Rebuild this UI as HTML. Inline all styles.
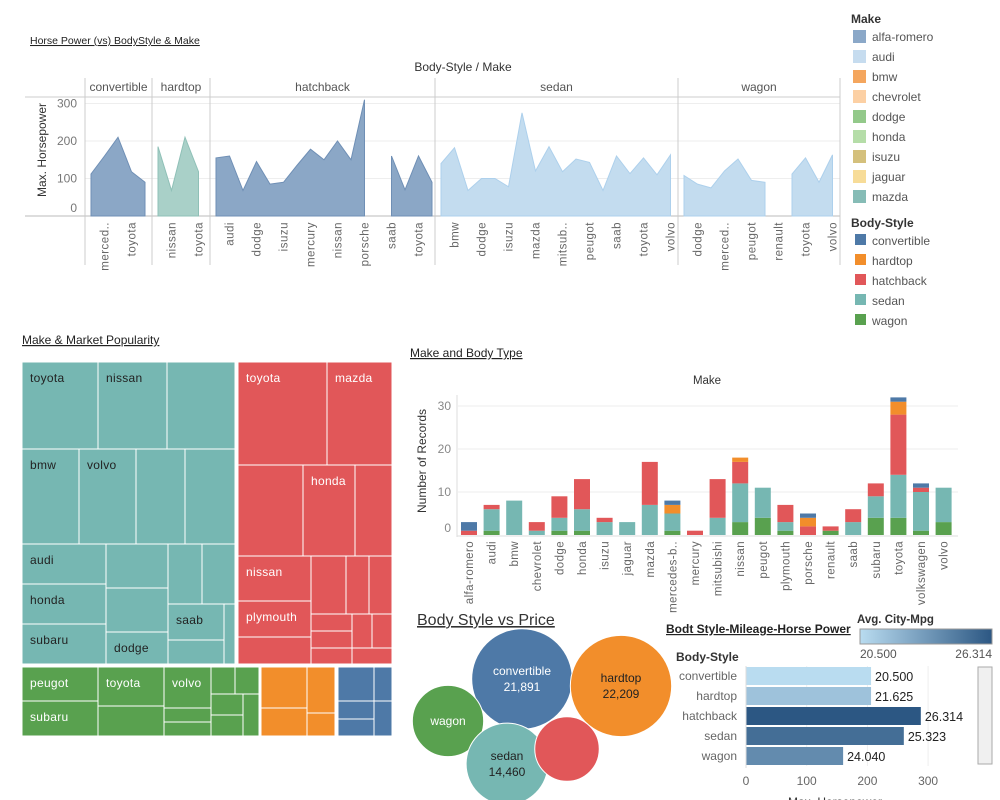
<!DOCTYPE html>
<html><head><meta charset="utf-8">
<style>
body{margin:0;background:#fff;width:1000px;height:800px;overflow:hidden;font-family:"Liberation Sans",sans-serif;}
svg{position:absolute;left:0;top:0}
text{font-family:"Liberation Sans",sans-serif}
</style></head>
<body>
<svg id="s" width="1000" height="800"></svg>
<script>
// ---------- data ----------
const panelNames=["convertible","hardtop","hatchback","sedan","wagon"];
const panelHp=[
 [112,160,210,118,90],
 [185,68,210,118],
 [155,160,68,145,85,90,135,178,150,200,150,310,null,160,70,160,90],
 [140,182,68,100,100,78,275,120,185,118,152,143,68,160,113,155,110,163],
 [108,85,75,120,152,95,90,null,112,155,90,163]
];
const panelLabels=[
 ["","merced..","","toyota",""],
 ["","nissan","","toyota"],
 ["","audi","","dodge","","isuzu","","mercury","","nissan","","porsche","","saab","","toyota",""],
 ["","bmw","","dodge","","isuzu","","mazda","","mitsub..","","peugot","","saab","","toyota","","volvo"],
 ["","dodge","","merced..","","peugot","","renault","","toyota","","volvo"]
];
const hpTicks=[0,100,200,300];
const makes=["alfa-romero","audi","bmw","chevrolet","dodge","honda","isuzu","jaguar","mazda","mercedes-b..","mercury","mitsubishi","nissan","peugot","plymouth","porsche","renault","saab","subaru","toyota","volkswagen","volvo"];
const wagonCnt=[0,1,0,0,1,1,0,0,0,1,0,0,3,4,1,0,1,0,4,4,1,3];
const sedanCnt=[0,5,8,1,3,5,3,3,7,4,0,4,9,7,2,0,0,3,5,10,9,8];
const hatchCnt=[1,1,0,2,5,7,1,0,10,0,1,9,5,0,4,2,1,3,3,14,1,0];
const hardtopCnt=[0,0,0,0,0,0,0,0,0,2,0,0,1,0,0,2,0,0,0,3,0,0];
const convCnt=[2,0,0,0,0,0,0,0,0,1,0,0,0,0,0,1,0,0,0,1,1,0];
const cntTicks=[0,10,20,30];
const bubbleNames=["convertible","hardtop","wagon","sedan","hatchback"];
const bubblePrice=[21891,22209,11000,14460,9000];
const hbarStyles=["convertible","hardtop","hatchback","sedan","wagon"];
const hbarHp=[206,206,288,260,160];
const hbarMpg=[20.5,21.625,26.314,25.323,24.04];
const hbarTicks=[0,100,200,300];

const NS="http://www.w3.org/2000/svg";
const S=document.getElementById('s');
function el(t,a,p){const e=document.createElementNS(NS,t);for(const k in a)e.setAttribute(k,a[k]);(p||S).appendChild(e);return e;}
function tx(x,y,s,a,p){const e=el('text',Object.assign({x:x,y:y},a),p);e.textContent=s;return e;}

// ---------- top area chart ----------
let t=tx(30,44,"Horse Power (vs) BodyStyle & Make",{'font-size':10.5,fill:'#222','text-decoration':'underline'});


t=tx(463,71,"Body-Style / Make",{'font-size':12,fill:'#333','text-anchor':'middle'});


const panelX=[85,152,210,435,678,840];
const panelFill=["#8ba7c6","#a9d0c8","#8ba7c6","#c3dcef","#c3dcef"];
const panelStroke=["#6f8fb5","#8fc0b7","#6f8fb5","#add0ec","#add0ec"];
const y0=216, ys=0.375;
function yHp(v){return y0-v*ys;}
el('line',{x1:25,y1:97,x2:840,y2:97,stroke:'#ccc'});
el('line',{x1:25,y1:y0,x2:840,y2:y0,stroke:'#bbb'});
hpTicks.forEach(v=>{
  if(v>0) el('line',{x1:85,y1:yHp(v),x2:840,y2:yHp(v),stroke:'#eee'});
  const tt=tx(77,yHp(v)+(v==0?-4:4),v,{'font-size':12,fill:'#777','text-anchor':'end'});
  
  
});
t=tx(0,0,"Max. Horsepower",{'font-size':12,fill:'#333','text-anchor':'middle',transform:'translate(46,150) rotate(-90)'});


for(let i=0;i<=5;i++){
  el('line',{x1:panelX[i],y1:(i==0||i==5)?78:78,x2:panelX[i],y2:265,stroke:'#ccc'});
}
panelNames.forEach((nm,i)=>{
  const x0=panelX[i], x1=panelX[i+1];
  const h=tx((x0+x1)/2,91,nm,{'font-size':12,fill:'#555','text-anchor':'middle'});
  
  
  const vals=panelHp[i];
  const start=x0+(i==0?6:6), step=13.5;
  let seg=[];
  const segs=[];
  vals.forEach((v,k)=>{ if(v==null){if(seg.length)segs.push(seg);seg=[];} else seg.push([start+k*step,yHp(v)]); });
  if(seg.length)segs.push(seg);
  segs.forEach(sg=>{
    let d="M"+sg[0][0]+","+y0+sg.map(p=>"L"+p[0]+","+p[1]).join("")+"L"+sg[sg.length-1][0]+","+y0+"Z";
    const a=el('path',{d:d,fill:panelFill[i],stroke:panelStroke[i],'stroke-width':1});
    
    
  });
  panelLabels[i].forEach((lb,k)=>{
    if(!lb)return;
    const x=start+k*step+4;
    const l=tx(0,0,lb,{'font-size':11.5,fill:'#666','text-anchor':'end',transform:`translate(${x},222) rotate(-90)`,'letter-spacing':'0.5'});
    
    
  });
});

// ---------- legends ----------
const makeLeg=["alfa-romero","audi","bmw","chevrolet","dodge","honda","isuzu","jaguar","mazda"];
const makeCol=["#8ba8c8","#c6dcef","#f4a65e","#fcd0a4","#93c98a","#b5dda8","#d4c07c","#f7dc98","#86bcb6"];
t=tx(851,23,"Make",{'font-size':12,fill:'#333','font-weight':'bold'});


makeLeg.forEach((m,i)=>{
  const y=30+i*20;
  const r=el('rect',{x:853,y:y,width:13,height:13,fill:makeCol[i]});
  
  
  const l=tx(872,y+11,m,{'font-size':12,fill:'#555'});
  
  
});
const bsLeg=["convertible","hardtop","hatchback","sedan","wagon"];
const bsCol=["#4e79a7","#f28e2b","#e15759","#76b7b2","#59a14f"];
t=tx(851,227,"Body-Style",{'font-size':12,fill:'#333','font-weight':'bold'});


bsLeg.forEach((m,i)=>{
  const y=234+i*20;
  const r=el('rect',{x:855,y:y,width:11,height:11,fill:bsCol[i]});
  
  
  const l=tx(872,y+11,m,{'font-size':12,fill:'#555'});
  
  
});

// ---------- treemap ----------
t=tx(22,344,"Make & Market Popularity",{'font-size':12,fill:'#222','text-decoration':'underline'});


const T="#76b7b2",R="#e15759",G="#59a14f",O="#f28e2b",B="#4e79a7";
const tiles=[
 [22,362,76,87,T,"toyota"],[98,362,69,87,T,"nissan"],[167,362,68,87,T,""],
 [22,449,57,95,T,"bmw"],[79,449,57,95,T,"volvo"],[136,449,49,95,T,""],[185,449,50,95,T,""],
 [22,544,84,40,T,"audi"],[22,584,84,40,T,"honda"],[22,624,84,40,T,"subaru"],
 [106,544,62,44,T,""],[106,588,62,44,T,""],[106,632,62,32,T,"dodge"],
 [168,544,34,60,T,""],[202,544,33,60,T,""],[168,604,56,36,T,"saab"],[168,640,56,24,T,""],[224,604,11,60,T,""],
 [238,362,89,103,R,"toyota"],[327,362,65,103,R,"mazda"],
 [238,465,65,91,R,""],[303,465,52,91,R,"honda"],[355,465,37,91,R,""],
 [238,556,73,45,R,"nissan"],[238,601,73,36,R,"plymouth"],[238,637,73,27,R,""],
 [311,556,35,58,R,""],[346,556,23,58,R,""],[369,556,23,58,R,""],
 [311,614,41,17,R,""],[311,631,41,17,R,""],[311,648,41,16,R,""],
 [352,614,20,34,R,""],[372,614,20,34,R,""],[352,648,40,16,R,""],
 [22,667,76,34,G,"peugot"],[22,701,76,35,G,"subaru"],
 [98,667,66,39,G,"toyota"],[98,706,66,30,G,""],
 [164,667,47,41,G,"volvo"],[164,708,47,14,G,""],[164,722,47,14,G,""],
 [211,667,24,27,G,""],[235,667,24,27,G,""],[211,694,32,21,G,""],[211,715,32,21,G,""],[243,694,16,42,G,""],
 [261,667,46,41,O,""],[261,708,46,28,O,""],[307,667,28,46,O,""],[307,713,28,23,O,""],
 [338,667,36,34,B,""],[338,701,36,18,B,""],[338,719,36,17,B,""],[374,667,18,34,B,""],[374,701,18,35,B,""]
];
tiles.forEach(tl=>{
  const r=el('rect',{x:tl[0],y:tl[1],width:tl[2],height:tl[3],fill:tl[4],stroke:'#fff','stroke-width':1});
  
  
  if(tl[5]){
    const l=tx(tl[0]+8,tl[1]+20,tl[5],{'font-size':12,fill:tl[4]==T?'#222':'#fff','letter-spacing':'0.3'});
    
    
  }
});

// ---------- stacked bar ----------
t=tx(410,357,"Make and Body Type",{'font-size':12,fill:'#222','text-decoration':'underline'});


t=tx(707,384,"Make",{'font-size':11.5,fill:'#333','text-anchor':'middle'});


const by0=535, bys=4.3, bx0=469, bstep=22.6;
function yC(v){return by0-v*bys;}
function xC(i){return bx0+i*bstep;}
cntTicks.forEach(v=>{
  if(v>0) el('line',{x1:458,y1:yC(v),x2:958,y2:yC(v),stroke:'#eee'});
  const tt=tx(451,yC(v)+(v==0?-3:4),v,{'font-size':12,fill:'#888','text-anchor':'end'});
  
  
});
el('line',{x1:457,y1:395,x2:457,y2:537,stroke:'#ddd'});
el('line',{x1:457,y1:536,x2:958,y2:536,stroke:'#ddd'});
t=tx(0,0,"Number of Records",{'font-size':12,fill:'#333','text-anchor':'middle',transform:'translate(426,461) rotate(-90)'});


const stacks=[wagonCnt,sedanCnt,hatchCnt,hardtopCnt,convCnt];
const stackCol=[G,T,R,O,B];
makes.forEach((m,i)=>{
  let acc=0;
  stacks.forEach((arr,j)=>{
    const v=arr[i]; if(!v)return;
    const r=el('rect',{x:xC(i)-8,y:yC(acc+v),width:16,height:v*bys,fill:stackCol[j]});
    
    
    acc+=v;
  });
  const l=tx(0,0,m,{'font-size':11.5,fill:'#666','text-anchor':'end',transform:`translate(${xC(i)+4},541) rotate(-90)`,'letter-spacing':'0.4'});
  
  
});

// ---------- bubbles ----------
t=tx(417,625,"Body Style vs Price",{'font-size':16,fill:'#333','text-decoration':'underline'});


const bubblePos=[[522,679],[621,686],[448,721],[507,764],[567,749]];
const bubbleCol=[B,O,G,T,R];
bubbleNames.forEach((n,i)=>{
  const r=0.34*Math.sqrt(bubblePrice[i]);
  const c=el('circle',{cx:bubblePos[i][0],cy:bubblePos[i][1],r:r,fill:bubbleCol[i],stroke:'#fff'});
  
  
  const dark=(n=="hardtop"||n=="sedan");
  const col=dark?'#222':'#fff';
  if(n=="hatchback")return;
  if(n=="wagon"){const l=tx(bubblePos[i][0],bubblePos[i][1]+4,n,{'font-size':12,fill:col,'text-anchor':'middle'});return;}
  const l=tx(bubblePos[i][0],bubblePos[i][1]-4,n,{'font-size':12,fill:col,'text-anchor':'middle'});
  
  
  const v=tx(bubblePos[i][0],bubblePos[i][1]+12,bubblePrice[i].toLocaleString('en-US'),{'font-size':12,fill:col,'text-anchor':'middle'});
  
  
});

// ---------- horizontal bar ----------
t=tx(666,633,"Bodt Style-Mileage-Horse Power",{'font-size':12,fill:'#222','text-decoration':'underline','font-weight':'bold'});


t=tx(857,623,"Avg. City-Mpg",{'font-size':11.5,fill:'#333','font-weight':'bold'});


const defs=el('defs',{});
const lg=el('linearGradient',{id:'g',x1:0,x2:1,y1:0,y2:0},defs);
el('stop',{offset:0,'stop-color':'#b9dcf0'},lg);
el('stop',{offset:1,'stop-color':'#2c5783'},lg);
const cl=el('rect',{x:860,y:629,width:132,height:15,fill:'url(#g)',stroke:'#999'});


t=tx(860,658,"20.500",{'font-size':12,fill:'#555'});


t=tx(992,658,"26.314",{'font-size':12,fill:'#555','text-anchor':'end'});


t=tx(676,661,"Body-Style",{'font-size':12,fill:'#333','font-weight':'bold'});


const hx0=746, hxs=0.607, mMin=20.5, mMax=26.314;
function xH(v){return hx0+v*hxs;}
function mcol(m){const f=(m-mMin)/(mMax-mMin);const a=[185,220,240],b=[44,87,131];return `rgb(${a.map((c,k)=>Math.round(c+(b[k]-c)*f)).join(',')})`;}
hbarTicks.forEach(v=>{
  el('line',{x1:xH(v),y1:666,x2:xH(v),y2:766,stroke:'#eee'});
  const tt=tx(xH(v),785,v,{'font-size':12,fill:'#666','text-anchor':'middle'});
  
  
});
hbarStyles.forEach((n,i)=>{
  const yc=676+i*20;
  const r=el('rect',{x:hx0,y:yc-9,width:hbarHp[i]*hxs,height:18,fill:mcol(hbarMpg[i])});
  
  
  const l=tx(737,yc+4,n,{'font-size':12,fill:'#666','text-anchor':'end'});
  
  
  const v=tx(xH(hbarHp[i])+4,yc+5,hbarMpg[i].toFixed(3),{'font-size':12.5,fill:'#222'});
  
  
});
el('line',{x1:746,y1:666,x2:746,y2:768,stroke:'#ddd'});
const sb=el('rect',{x:978,y:667,width:14,height:97,fill:'#f0f0f0',stroke:'#aaa'});


t=tx(835,806,"Max. Horsepower",{'font-size':12,fill:'#333','text-anchor':'middle'});


</script>
</body></html>
